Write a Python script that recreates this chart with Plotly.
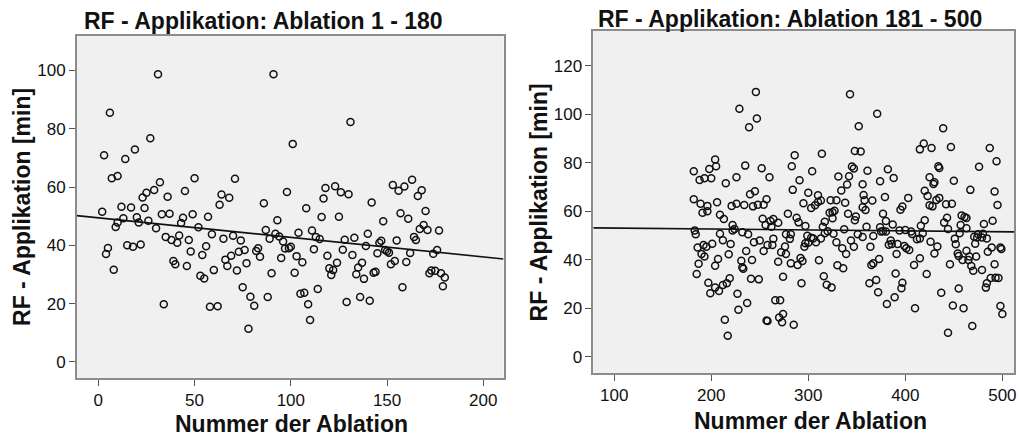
import numpy as np
import plotly.graph_objects as go

# ---------------- data: left panel (Ablation 1 - 180) ----------------
left_x = [31, 6, 3, 27, 19, 14, 7, 10, 50, 71, 2, 32, 29, 25, 23, 36, 45, 63, 64, 68,
          12, 17, 24, 33, 37, 49, 44, 57, 13, 20, 26, 21, 10, 9, 30, 43, 52, 35, 38, 41,
          42, 47, 59, 65, 70, 74, 5, 15, 18, 22, 4, 8, 39, 40, 46, 48, 54, 56, 53, 55,
          60, 34, 58, 62, 66, 67, 69, 72, 73, 76, 77, 82, 83, 84, 75, 79, 81, 78, 91, 131,
          101, 98, 86, 108, 118, 123, 126, 130, 117, 142, 116, 125, 93, 148, 153, 156, 159, 163, 168, 166,
          157, 161, 170, 169, 167, 171, 177, 87, 92, 89, 94, 96, 104, 111, 113, 115, 128, 133, 140, 147,
          146, 155, 164, 165, 97, 99, 100, 95, 90, 88, 112, 103, 106, 102, 105, 107, 109, 114, 110, 119,
          124, 120, 122, 121, 127, 132, 139, 137, 135, 134, 138, 129, 136, 141, 143, 144, 145, 149, 150, 151,
          152, 154, 160, 162, 158, 174, 176, 172, 173, 175, 178, 180, 179]
left_y = [98.7, 85.5, 70.9, 76.7, 72.9, 69.6, 63.0, 63.8, 63.0, 62.8, 51.5, 61.6, 59.0, 58.0, 56.4, 56.7, 58.6, 53.9, 57.4, 56.3,
          53.2, 53.0, 52.8, 50.7, 50.8, 50.7, 49.5, 49.8, 49.3, 49.6, 48.4, 47.8, 47.8, 46.3, 45.9, 47.7, 46.2, 42.9, 41.8, 40.9,
          43.4, 41.8, 43.8, 42.3, 43.3, 41.7, 39.1, 40.0, 39.5, 40.3, 37.0, 31.6, 34.6, 33.5, 32.9, 37.9, 36.7, 39.7, 29.6, 28.6,
          31.5, 19.8, 18.9, 19.1, 35.1, 32.9, 36.4, 31.4, 37.8, 38.4, 33.9, 38.1, 39.0, 36.1, 25.6, 22.4, 19.3, 11.4, 98.7, 82.3,
          74.8, 58.3, 54.4, 52.7, 59.7, 60.3, 58.2, 57.5, 56.1, 54.7, 49.7, 49.8, 48.6, 48.3, 60.7, 58.7, 60.2, 62.5, 58.9, 56.9,
          51.0, 49.1, 51.8, 47.0, 45.6, 45.3, 45.1, 45.3, 44.0, 42.3, 43.0, 41.3, 44.3, 45.1, 42.9, 42.2, 41.9, 42.6, 44.0, 41.6,
          40.9, 41.7, 42.9, 41.8, 38.9, 39.0, 39.5, 35.7, 30.4, 22.3, 38.7, 36.3, 34.2, 30.6, 23.4, 23.7, 19.8, 25.0, 14.4, 36.4,
          34.0, 32.1, 31.5, 29.8, 38.5, 36.7, 39.8, 34.0, 32.4, 30.1, 28.5, 20.6, 22.3, 21.0, 30.6, 30.9, 37.3, 38.4, 38.0, 37.5,
          33.5, 34.6, 34.3, 37.4, 25.6, 37.1, 38.4, 30.4, 31.4, 31.3, 30.4, 29.0, 26.0]

# ---------------- data: right panel (Ablation 181 - 500) ----------------
right_x = [246, 229, 247, 239, 204, 182, 188, 193, 200, 198, 205, 235, 226, 215, 252, 245, 240, 182, 189, 196,
           191, 196, 206, 221, 226, 234, 243, 248, 254, 257, 209, 213, 253, 256, 222, 224, 222, 183, 184, 209,
           232, 238, 186, 195, 201, 212, 220, 244, 250, 236, 254, 192, 190, 193, 187, 207, 204, 218, 185, 197,
           199, 204, 208, 212, 216, 219, 231, 232, 233, 242, 241, 249, 227, 228, 237, 214, 217, 257, 343, 371,
           352, 439, 348, 354, 286, 314, 415, 419, 427, 447, 487, 494, 283, 304, 260, 345, 347, 361, 382, 388,
           331, 342, 434, 435, 476, 291, 374, 356, 340, 334, 425, 430, 429, 450, 467, 284, 300, 310, 295, 303,
           307, 310, 313, 323, 329, 338, 357, 358, 366, 379, 356, 359, 403, 397, 395, 423, 420, 425, 428, 432,
           435, 442, 448, 440, 443, 458, 461, 463, 492, 495, 490, 481, 463, 279, 288, 290, 297, 317, 315, 322,
           325, 327, 325, 341, 349, 348, 360, 377, 387, 380, 374, 377, 261, 262, 264, 269, 420, 416, 444, 457,
           277, 281, 299, 303, 308, 297, 320, 317, 326, 337, 344, 351, 356, 367, 375, 380, 385, 392, 399, 394,
           400, 406, 415, 412, 418, 426, 433, 451, 456, 471, 475, 480, 484, 489, 498, 258, 264, 276, 263, 269,
           274, 272, 277, 282, 282, 289, 292, 294, 293, 296, 300, 305, 311, 313, 316, 319, 324, 329, 330, 336,
           335, 339, 347, 363, 364, 365, 367, 370, 373, 372, 381, 383, 386, 389, 391, 390, 396, 397, 401, 404,
           407, 410, 409, 415, 422, 430, 437, 446, 449, 455, 452, 454, 455, 459, 460, 463, 465, 466, 468, 470,
           473, 469, 472, 474, 479, 479, 485, 492, 493, 498, 499, 496, 500, 488, 483, 484, 444, 258, 270, 273,
           274, 285, 266, 271]
right_y = [109.3, 102.3, 98.3, 94.7, 81.4, 76.6, 73.0, 73.7, 73.7, 77.5, 78.6, 78.9, 74.1, 71.6, 77.8, 68.3, 67.1, 65.0, 63.2, 62.3,
           59.5, 60.1, 63.8, 62.3, 63.2, 62.7, 62.1, 62.8, 62.8, 65.0, 58.6, 56.9, 57.0, 54.4, 54.4, 52.8, 52.2, 52.2, 50.6, 50.8,
           51.4, 50.6, 45.1, 45.5, 46.7, 48.1, 46.6, 47.3, 48.0, 43.7, 43.7, 46.2, 42.5, 41.4, 38.4, 40.4, 37.6, 42.4, 34.2, 30.6,
           26.3, 28.6, 27.2, 29.7, 30.4, 32.5, 39.7, 37.0, 36.4, 40.0, 32.3, 32.0, 26.1, 19.5, 22.3, 15.4, 8.8, 15.0, 108.3, 100.3,
           95.1, 94.3, 84.9, 84.7, 83.2, 83.8, 85.6, 88.0, 86.2, 86.6, 86.2, 80.7, 78.6, 76.6, 74.1, 78.5, 77.7, 76.8, 77.4, 73.8,
           74.4, 74.5, 78.6, 77.9, 78.4, 72.9, 72.5, 71.2, 71.1, 68.6, 74.1, 72.0, 71.3, 72.7, 68.9, 68.9, 67.7, 66.7, 63.4, 61.4,
           62.6, 63.9, 64.5, 64.6, 64.6, 63.6, 66.8, 64.6, 64.5, 66.0, 61.7, 60.6, 65.6, 62.0, 60.7, 66.4, 68.5, 62.6, 62.1, 64.7,
           65.6, 63.0, 63.2, 55.4, 57.4, 58.3, 57.7, 57.3, 68.2, 62.7, 56.2, 54.8, 53.1, 59.1, 57.4, 55.5, 54.0, 55.8, 53.7, 59.5,
           59.7, 60.3, 57.2, 59.1, 57.9, 56.4, 53.7, 59.1, 54.6, 56.1, 53.5, 51.8, 56.1, 53.7, 56.9, 55.3, 56.4, 54.1, 52.8, 54.4,
           50.6, 48.7, 50.0, 49.2, 47.3, 46.9, 51.8, 51.0, 50.8, 52.7, 48.0, 50.6, 49.5, 49.9, 51.7, 51.7, 48.0, 46.6, 45.8, 52.2,
           52.4, 51.7, 48.9, 48.5, 51.0, 47.5, 45.6, 48.8, 51.0, 49.6, 50.6, 50.8, 48.9, 45.1, 45.1, 46.2, 48.8, 45.6, 46.2, 39.3,
           33.1, 43.2, 42.5, 50.6, 38.6, 37.9, 40.8, 39.6, 30.4, 45.5, 47.1, 48.9, 39.9, 48.9, 33.3, 29.8, 28.7, 47.3, 37.8, 36.6,
           44.8, 42.5, 45.5, 30.4, 45.5, 37.9, 38.6, 31.7, 40.4, 26.7, 21.8, 46.3, 46.6, 24.6, 42.5, 34.4, 28.3, 30.6, 44.8, 44.1,
           50.7, 20.1, 37.9, 40.7, 34.2, 42.7, 26.5, 38.2, 21.2, 28.2, 46.5, 42.7, 41.6, 40.0, 20.1, 43.8, 40.0, 41.4, 37.5, 35.6,
           41.4, 12.8, 46.7, 49.3, 49.3, 35.9, 43.4, 38.2, 32.7, 21.0, 44.5, 32.6, 17.7, 32.6, 28.6, 30.4, 10.0, 14.8, 16.3, 14.3,
           17.7, 13.3, 23.4, 23.4]

title_left = "RF - Applikation: Ablation 1 - 180"
title_right = "RF - Applikation: Ablation 181 - 500"
y_title = "RF - Applikation [min]"
x_title = "Nummer der Ablation"

left_xticks = [0, 50, 100, 150, 200]
left_yticks = [0, 20, 40, 60, 80, 100]
right_xticks = [100, 200, 300, 400, 500]
right_yticks = [0, 20, 40, 60, 80, 100, 120]

# ---------------- layout constants ----------------
W, H = 1019, 436
FONT = "Liberation Sans, Arial, sans-serif"
L_XR = [-11.2, 210.5]
L_YR = [-5.5, 111.8]
R_XR = [78.4, 512.0]
R_YR = [-6.6, 134.4]

fig = go.Figure()


def add_panel(xs, ys, xr, xaxis, yaxis):
    fig.add_trace(go.Scatter(
        x=xs, y=ys, mode="markers", xaxis=xaxis, yaxis=yaxis,
        marker=dict(symbol="circle-open", size=7, color="#111111",
                    line=dict(width=1.5, color="#111111")),
        showlegend=False, hoverinfo="skip"))
    k, d = np.polyfit(np.array(xs, float), np.array(ys, float), 1)
    lx = np.array(xr)
    fig.add_trace(go.Scatter(
        x=lx, y=k * lx + d, mode="lines", xaxis=xaxis, yaxis=yaxis,
        line=dict(color="#111111", width=1.6), showlegend=False, hoverinfo="skip"))


add_panel(left_x, left_y, L_XR, "x", "y")
add_panel(right_x, right_y, R_XR, "x2", "y2")

axis_common = dict(showgrid=False, zeroline=False, showline=True, mirror=True,
                   linecolor="#8c8c8c", linewidth=1.5, ticks="outside", ticklen=6,
                   tickwidth=1, tickcolor="#555555", ticklabeloverflow="allow",
                   tickfont=dict(family=FONT, size=17, color="#111111"))

fig.update_layout(
    width=W, height=H,
    margin=dict(l=0, r=0, t=0, b=0),
    paper_bgcolor="white",
    plot_bgcolor="#f0f0f0",
    xaxis=dict(domain=[77 / W, 505 / W], range=L_XR, tickvals=left_xticks,
               anchor="y", **axis_common),
    yaxis=dict(domain=[(H - 378) / H, (H - 36) / H], range=L_YR, tickvals=left_yticks,
               anchor="x", **axis_common),
    xaxis2=dict(domain=[595 / W, 1017 / W], range=R_XR, tickvals=right_xticks,
                anchor="y2", **axis_common),
    yaxis2=dict(domain=[(H - 373) / H, (H - 31) / H], range=R_YR, tickvals=right_yticks,
                anchor="x2", **axis_common),
)

ann = []
tfont = dict(family=FONT, size=23, color="#111111")
ann.append(dict(text="<b>%s</b>" % title_left, x=264 / W, y=1 - 21 / H, xref="paper", yref="paper",
                xanchor="center", yanchor="middle", showarrow=False, font=tfont))
ann.append(dict(text="<b>%s</b>" % title_right, x=792 / W, y=1 - 19 / H, xref="paper", yref="paper",
                xanchor="center", yanchor="middle", showarrow=False, font=tfont))
ann.append(dict(text="<b>%s</b>" % x_title, x=292 / W, y=1 - 424 / H, xref="paper", yref="paper",
                xanchor="center", yanchor="middle", showarrow=False, font=tfont))
ann.append(dict(text="<b>%s</b>" % x_title, x=813 / W, y=1 - 421 / H, xref="paper", yref="paper",
                xanchor="center", yanchor="middle", showarrow=False, font=tfont))
ann.append(dict(text="<b>%s</b>" % y_title, x=22 / W, y=1 - 207 / H, xref="paper", yref="paper",
                xanchor="center", yanchor="middle", showarrow=False, textangle=-90, font=tfont))
ann.append(dict(text="<b>%s</b>" % y_title, x=541 / W, y=1 - 202 / H, xref="paper", yref="paper",
                xanchor="center", yanchor="middle", showarrow=False, textangle=-90, font=tfont))
fig.update_layout(annotations=ann)

fig.write_html("out.html")
